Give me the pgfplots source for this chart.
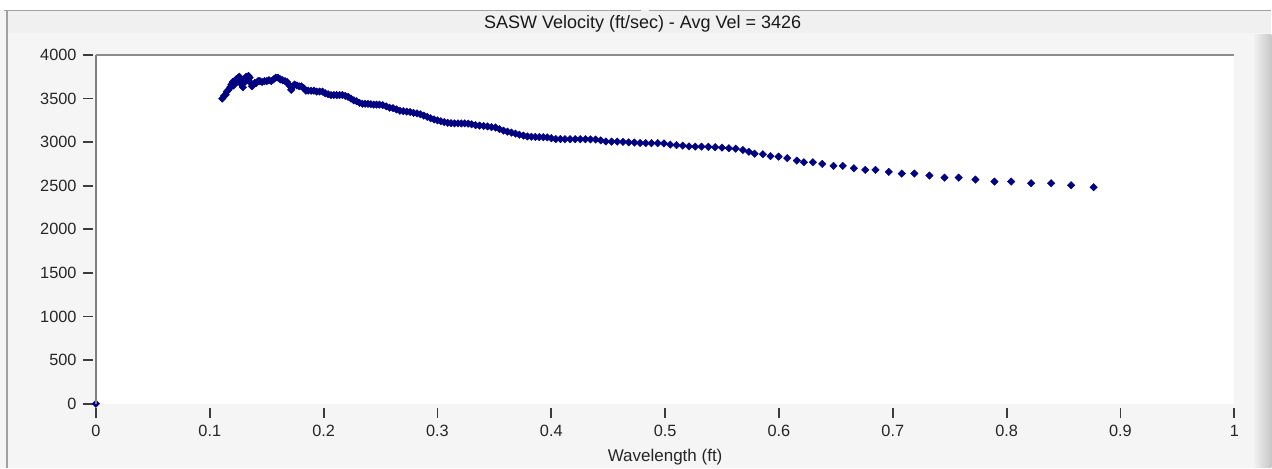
\documentclass[border=0pt]{standalone}
\usepackage{pgfplots}
\pgfplotsset{compat=1.18}
\usepackage{fontspec}
\setmainfont{Liberation Sans}
\definecolor{navy}{HTML}{000080}
\definecolor{panel}{HTML}{F5F5F5}
\definecolor{band}{HTML}{F0F0F0}
\definecolor{frameline}{HTML}{A0A0A0}
\definecolor{tickc}{HTML}{3C3C3C}
\begin{document}
\begin{tikzpicture}[x=1bp,y=1bp]
% background
\fill[panel] (0,0) rectangle (1272,468);
\fill[white] (0,458) rectangle (1272,468);
\fill[band] (8,435) rectangle (1272,457);
\draw[frameline, line width=1.5bp] (4,457.5) -- (641,457.5);
\draw[frameline, line width=1.5bp] (649,457.5) -- (1272,457.5);
\draw[frameline, line width=1.5bp] (7,0) -- (7,458);
\shade[left color=panel, right color=black!22] (1253,0) rectangle (1272,433);
\node[font=\fontsize{18bp}{20bp}\selectfont, text=black!90] at (643,444) {SASW Velocity (ft/sec) - Avg Vel = 3426};
\begin{axis}[
  at={(96bp,64bp)}, anchor=south west,
  scale only axis, width=1139bp, height=349bp,
  xmin=0, xmax=1, ymin=0, ymax=4000,
  axis background/.style={fill=white},
  axis line style={draw=none},
  xtick={0,0.1,0.2,0.3,0.4,0.5,0.6,0.7,0.8,0.9,1},
  ytick={0,500,1000,1500,2000,2500,3000,3500,4000},
  xtick pos=bottom, ytick pos=left,
  tick align=outside, major tick length=10bp,
  tick style={color=tickc, line width=1.8bp},
  every x tick/.append style={yshift=-4bp},
  every y tick/.append style={xshift=-3bp},
  /pgf/number format/1000 sep={},
  /pgf/number format/assume math mode=true,
  ticklabel style={font=\fontsize{16.3bp}{18bp}\selectfont, text=black!85},
  xticklabel style={yshift=-8bp},
  yticklabel style={xshift=-6bp},
  xlabel={Wavelength (ft)},
  xlabel style={at={(axis description cs:0.5,0)}, anchor=center, yshift=-53.5bp, font=\fontsize{17bp}{20bp}\selectfont, text=black!85},
  after end axis/.code={
    \draw[color=black!50, line width=1.5bp] (rel axis cs:0,0) -- (rel axis cs:0,1);
    \draw[color=black!45, line width=2bp] (rel axis cs:0,1) -- (rel axis cs:1,1);
  },
]
\addplot[only marks, mark=square*, mark size=2.65bp, mark options={rotate=45, fill=navy, draw=navy}, color=navy] table {
x y
0 0
0.1110 3500
0.1125 3530
0.1140 3545
0.1150 3580
0.1165 3600
0.1180 3630
0.1190 3660
0.1200 3690
0.1210 3650
0.1220 3700
0.1230 3720
0.1240 3690
0.1250 3740
0.1260 3750
0.1270 3700
0.1280 3660
0.1290 3630
0.1300 3680
0.1310 3730
0.1320 3750
0.1330 3720
0.1340 3760
0.1350 3740
0.1360 3680
0.1370 3640
0.1380 3660
0.1395 3680
0.1410 3680
0.1425 3700
0.1440 3700
0.1460 3690
0.1480 3700
0.1500 3700
0.1520 3710
0.1540 3700
0.1560 3720
0.1580 3740
0.1600 3740
0.1620 3720
0.1640 3710
0.1660 3700
0.1680 3690
0.1700 3650
0.1715 3600
0.1730 3640
0.1745 3660
0.1765 3650
0.1785 3640
0.1805 3640
0.1825 3620
0.1845 3590
0.1865 3590
0.1890 3590
0.1915 3590
0.1940 3580
0.1965 3580
0.1990 3580
0.2015 3560
0.2040 3550
0.2065 3540
0.2090 3540
0.2115 3540
0.2140 3540
0.2165 3540
0.2190 3530
0.2215 3520
0.2240 3500
0.2265 3480
0.2290 3470
0.2315 3450
0.2340 3440
0.2365 3440
0.2390 3440
0.2415 3435
0.2440 3430
0.2465 3430
0.2490 3430
0.2520 3425
0.2550 3410
0.2580 3395
0.2610 3390
0.2640 3375
0.2670 3360
0.2700 3355
0.2730 3350
0.2760 3345
0.2790 3335
0.2820 3330
0.2850 3320
0.2880 3305
0.2910 3290
0.2940 3275
0.2970 3260
0.3000 3250
0.3030 3240
0.3060 3230
0.3090 3222
0.3120 3218
0.3150 3215
0.3180 3215
0.3210 3215
0.3240 3215
0.3270 3212
0.3300 3205
0.3335 3195
0.3370 3190
0.3405 3185
0.3440 3180
0.3475 3172
0.3510 3168
0.3545 3150
0.3580 3132
0.3615 3120
0.3650 3110
0.3685 3098
0.3720 3085
0.3755 3075
0.3790 3066
0.3825 3062
0.3860 3060
0.3895 3058
0.3930 3057
0.3965 3055
0.4000 3045
0.4040 3035
0.4080 3035
0.4120 3034
0.4165 3034
0.4210 3034
0.4255 3034
0.4300 3034
0.4345 3032
0.4390 3030
0.4435 3020
0.4480 3008
0.4530 3006
0.4580 3006
0.4630 3004
0.4680 2998
0.4730 2995
0.4780 2990
0.4830 2988
0.4880 2988
0.4935 2988
0.4990 2985
0.5045 2972
0.5100 2965
0.5155 2960
0.5210 2952
0.5265 2949
0.5320 2949
0.5380 2946
0.5440 2942
0.5500 2938
0.5560 2931
0.5620 2925
0.5683 2910
0.5735 2890
0.5786 2868
0.5859 2862
0.5926 2840
0.5997 2834
0.6073 2816
0.6157 2789
0.6219 2770
0.6298 2770
0.6380 2751
0.6479 2728
0.6561 2728
0.6658 2701
0.6758 2682
0.6848 2682
0.6965 2659
0.7079 2640
0.7190 2640
0.7322 2617
0.7454 2594
0.7579 2594
0.7726 2571
0.7893 2548
0.8040 2548
0.8215 2529
0.8391 2529
0.8566 2506
0.8765 2483
};
\end{axis}
\end{tikzpicture}
\end{document}
